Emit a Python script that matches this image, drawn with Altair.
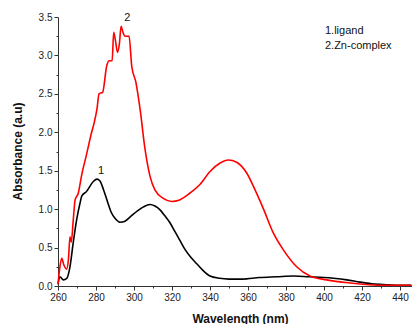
import altair as alt
import pandas as pd

# ---- data ----
wl_lig = [260, 261, 262.8, 264.6, 266.3, 268, 269.8, 271.6, 272.5, 275, 278.6, 280.5,
          282, 284, 286, 288, 290, 292.6, 295, 298, 302, 305, 308.4, 311, 313.7, 316,
          319, 321.5, 324, 327, 330, 333, 336, 340, 345, 350, 357, 366, 375, 384, 392,
          400, 405, 412, 419, 425, 431, 438, 446]
abs_lig = [0.03, 0.12, 0.08, 0.10, 0.25, 0.56, 0.86, 1.08, 1.17, 1.23, 1.36, 1.39,
           1.37, 1.25, 1.10, 0.96, 0.88, 0.83, 0.84, 0.90, 0.98, 1.03, 1.06, 1.04, 0.99, 0.92,
           0.82, 0.71, 0.60, 0.47, 0.37, 0.29, 0.21, 0.13, 0.10, 0.09, 0.09, 0.11, 0.12, 0.13, 0.12,
           0.11, 0.10, 0.08, 0.05, 0.03, 0.02, 0.01, 0.01]

wl_zn = [260, 261, 262, 263, 264.5, 265.5, 266.3, 267, 268, 269, 270.7, 272.5, 275,
         277.7, 279, 280.5, 281.6, 283.5, 285.6, 287, 288.5, 289.3, 290.2, 291.3, 292.3,
         293.2, 294.2, 295.3, 297.4, 298.8, 301, 303.2, 305.8, 308.4, 311, 315.4, 319.8,
         324, 329.5, 334.7, 340, 345.3, 349.6, 354, 359.3, 363.7, 368, 373.3, 378.6,
         385.6, 392.6, 401.4, 413.7, 431, 446]
abs_zn = [0.02, 0.25, 0.36, 0.28, 0.22, 0.35, 0.64, 0.57, 0.85, 1.12, 1.21, 1.45, 1.71,
          2.0, 2.12, 2.3, 2.5, 2.52, 2.86, 2.93, 2.93, 3.30, 3.20, 3.04, 3.15,
          3.38, 3.30, 3.25, 3.25, 2.86, 2.65, 2.30, 1.78, 1.43, 1.25, 1.14, 1.10,
          1.12, 1.21, 1.32, 1.49, 1.60, 1.64, 1.61, 1.47, 1.25, 1.01, 0.69, 0.47,
          0.25, 0.13, 0.08, 0.04, 0.01, 0.01]

series_names = ["ligand", "Zn-complex"]
series_colors = ["#000000", "#ff0000"]

x_major = [260, 280, 300, 320, 340, 360, 380, 400, 420, 440]
x_minor = [270, 290, 310, 330, 350, 370, 390, 410, 430]
y_major = [0.0, 0.5, 1.0, 1.5, 2.0, 2.5, 3.0, 3.5]
y_minor = [0.25, 0.75, 1.25, 1.75, 2.25, 2.75, 3.25]

peak_labels = ["1", "2"]
peak_x = [282.6, 296.5]
peak_y = [1.49, 3.49]

legend_lines = ["1.ligand", "2.Zn-complex"]
legend_x = [400.5, 400.5]
legend_y = [3.32, 3.12]

FONT = "Liberation Sans"
X_DOMAIN = [260, 446.3]
Y_DOMAIN = [0, 3.5]

df = pd.concat([
    pd.DataFrame({"wl": wl_lig, "A": abs_lig, "s": series_names[0], "o": 0}),
    pd.DataFrame({"wl": wl_zn, "A": abs_zn, "s": series_names[1], "o": 1}),
])
peaks = pd.DataFrame({"t": peak_labels, "x": peak_x, "y": peak_y})
leg = pd.DataFrame({"t": legend_lines, "x": legend_x, "y": legend_y})

xs = alt.Scale(domain=X_DOMAIN, nice=False, zero=False)
ys = alt.Scale(domain=Y_DOMAIN, nice=False, zero=False)

common_axis = dict(grid=False, domainColor="#333333", tickColor="#333333",
                   labelColor="#222222", labelFont=FONT, labelFontSize=10,
                   tickWidth=1, domainWidth=1, labelFlush=False, labelOverlap=False)

x_axis = alt.Axis(values=x_major, orient="bottom", tickSize=4, labelPadding=2,
                  title="Wavelength (nm)", titleFont=FONT, titleFontSize=12,
                  titleFontWeight="bold", titleColor="#111111", titleX=182, titleY=32,
                  titleBaseline="middle", **common_axis)
y_axis = alt.Axis(values=y_major, orient="left", tickSize=4, labelPadding=2, format=".1f",
                  title="Absorbance (a.u)", titleFont=FONT, titleFontSize=12,
                  titleFontWeight="bold", titleColor="#111111", titleX=-41, titleY=134,
                  titleAngle=-90, titleAlign="center", titleBaseline="middle", **common_axis)

lines = alt.Chart(df).mark_line(strokeWidth=1.6, interpolate="monotone").encode(
    x=alt.X("wl:Q", scale=xs, axis=x_axis),
    y=alt.Y("A:Q", scale=ys, axis=y_axis),
    color=alt.Color("s:N", scale=alt.Scale(domain=series_names, range=series_colors), legend=None),
    detail="s:N",
    order="wl:Q",
)

minor = alt.Chart(df).mark_line(opacity=0).encode(
    x=alt.X("wl:Q", scale=xs, axis=alt.Axis(values=x_minor, orient="bottom", tickSize=2,
                                            labels=False, domain=False, grid=False, title=None,
                                            tickColor="#333333")),
    y=alt.Y("A:Q", scale=ys, axis=alt.Axis(values=y_minor, orient="left", tickSize=2,
                                           labels=False, domain=False, grid=False, title=None,
                                           tickColor="#333333")),
    detail="s:N",
)

peak_text = alt.Chart(peaks).mark_text(font=FONT, fontSize=11, color="#111111",
                                       align="center", baseline="middle").encode(
    x=alt.X("x:Q", scale=xs, axis=None),
    y=alt.Y("y:Q", scale=ys, axis=None),
    text="t:N",
)

legend_text = alt.Chart(leg).mark_text(font=FONT, fontSize=11, color="#111111",
                                       align="left", baseline="middle").encode(
    x=alt.X("x:Q", scale=xs, axis=None),
    y=alt.Y("y:Q", scale=ys, axis=None),
    text="t:N",
)

chart = alt.layer(lines, minor, peak_text, legend_text).resolve_axis(
    x="independent", y="independent"
).properties(
    width=354, height=269,
    autosize=alt.AutoSizeParams(type="none"),
    padding={"left": 58, "top": 17, "right": 0, "bottom": 38},
    background="white",
).configure_view(stroke=None)

chart.save("out.html", embed_options={"renderer": "svg", "actions": False})
